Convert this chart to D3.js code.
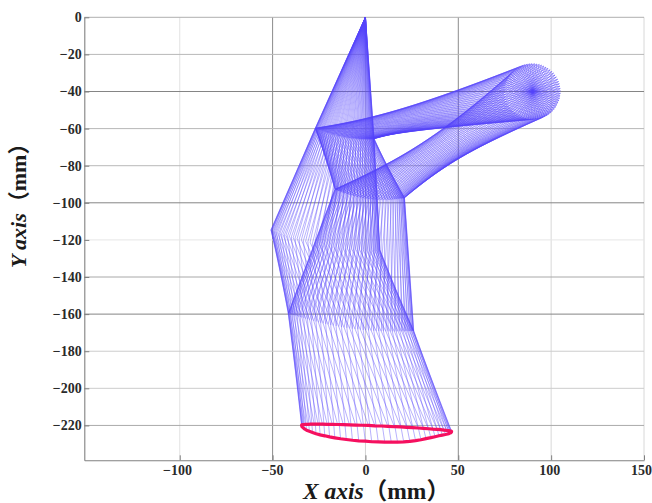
<!DOCTYPE html>
<html><head><meta charset="utf-8">
<style>html,body{margin:0;padding:0;background:#fff}svg{display:block}</style>
<script src="https://cdn.jsdelivr.net/npm/d3@7"></script></head><body>
<svg id="c" width="652" height="503"></svg>
<script>
// Axis ticks
const xTicks=[-100,-50,0,50,100,150];
const yTicks=[0,-20,-40,-60,-80,-100,-120,-140,-160,-180,-200,-220];
const xGridGray=["#e2e2e2","#8c8c8c","#d2d2d2","#8c8c8c","#d8d8d8","#d8d8d8"];
const yGridGray=["#b0b0b0","#b8b8b8","#858585","#b8b8b8","#b8b8b8","#858585","#e6e6e6","#a8a8a8","#858585","#cccccc","#cccccc","#aaaaaa"];
const xLabelNudge=[-2.7,-.5,0,-1,-2,-3];
// Fixed pivots (mm)
const pivotO=[0,0];
const pivotC=[90,-40];
// Joint positions per frame (mm). Extremes and paths measured on the reference, in-between frames estimated by hand.
const Px=[105.0,104.9,104.7,104.4,104.0,103.5,102.8,102.1,101.3,100.4,99.4,98.3,97.2,96.0,94.8,93.6,92.3,91.0,89.7,88.4,87.1,85.8,84.6,83.4,82.2,81.1,80.1,79.2,78.3,77.5,76.9,76.3,75.8,75.4,75.2,75.0,75.0,75.1,75.3,75.6,76.0,76.5,77.2,77.9,78.7,79.6,80.6,81.7,82.8,84.0,85.2,86.4,87.7,89.0,90.3,91.6,92.9,94.2,95.4,96.6,97.8,98.9,99.9,100.8,101.7,102.5,103.1,103.7,104.2,104.6,104.8,105.0];
const Py=[-39.7,-38.4,-37.1,-35.8,-34.6,-33.4,-32.2,-31.1,-30.1,-29.2,-28.3,-27.5,-26.9,-26.3,-25.8,-25.4,-25.2,-25.0,-25.0,-25.1,-25.3,-25.6,-26.0,-26.6,-27.2,-27.9,-28.7,-29.6,-30.6,-31.7,-32.8,-34.0,-35.2,-36.4,-37.7,-39.0,-40.3,-41.6,-42.9,-44.2,-45.4,-46.6,-47.8,-48.9,-49.9,-50.8,-51.7,-52.5,-53.1,-53.7,-54.2,-54.6,-54.8,-55.0,-55.0,-54.9,-54.7,-54.4,-54.0,-53.4,-52.8,-52.1,-51.3,-50.4,-49.4,-48.3,-47.2,-46.0,-44.8,-43.6,-42.3,-41.0];
const Ax=[4.1,4.4,4.6,4.6,4.5,4.3,4.0,3.5,2.9,2.2,1.4,.6,-.4,-1.5,-2.6,-3.8,-5.1,-6.4,-7.7,-9.1,-10.5,-11.8,-13.2,-14.6,-15.9,-17.2,-18.4,-19.6,-20.7,-21.8,-22.8,-23.6,-24.4,-25.1,-25.7,-26.2,-26.6,-26.8,-27.0,-27.0,-26.9,-26.7,-26.4,-26.0,-25.4,-24.8,-24.0,-23.2,-22.3,-21.3,-20.2,-19.0,-17.8,-16.6,-15.2,-13.9,-12.5,-11.2,-9.8,-8.4,-7.1,-5.7,-4.5,-3.2,-2.1,-1.0,.1,1.0,1.9,2.6,3.2,3.7];
const Ay=[-65.5,-65.5,-65.4,-65.4,-65.4,-65.5,-65.5,-65.5,-65.5,-65.6,-65.6,-65.6,-65.6,-65.6,-65.6,-65.5,-65.4,-65.3,-65.2,-65.0,-64.8,-64.5,-64.3,-64.0,-63.7,-63.3,-63.0,-62.6,-62.2,-61.9,-61.5,-61.2,-60.9,-60.6,-60.4,-60.2,-60.0,-59.9,-59.8,-59.8,-59.8,-59.9,-60.1,-60.3,-60.5,-60.7,-61.0,-61.4,-61.7,-62.1,-62.4,-62.8,-63.1,-63.5,-63.8,-64.1,-64.4,-64.7,-64.9,-65.1,-65.2,-65.4,-65.5,-65.5,-65.6,-65.6,-65.6,-65.6,-65.6,-65.5,-65.5,-65.5];
const Dx=[16.9,17.9,18.7,19.4,20.0,20.5,20.8,21.0,21.0,20.9,20.6,20.3,19.7,19.1,18.3,17.4,16.4,15.2,14.0,12.7,11.3,9.8,8.3,6.7,5.1,3.5,1.9,.3,-1.4,-2.9,-4.5,-6.0,-7.4,-8.8,-10.0,-11.2,-12.3,-13.3,-14.1,-14.8,-15.4,-15.9,-16.2,-16.4,-16.4,-16.3,-16.0,-15.7,-15.1,-14.5,-13.7,-12.8,-11.8,-10.6,-9.4,-8.1,-6.7,-5.2,-3.7,-2.1,-.5,1.1,2.7,4.3,6.0,7.5,9.1,10.6,12.0,13.4,14.6,15.8];
const Dy=[-98.0,-97.8,-97.7,-97.6,-97.5,-97.4,-97.3,-97.3,-97.3,-97.3,-97.4,-97.5,-97.5,-97.7,-97.8,-97.9,-98.0,-98.2,-98.3,-98.4,-98.4,-98.4,-98.4,-98.4,-98.3,-98.1,-98.0,-97.7,-97.4,-97.1,-96.8,-96.4,-96.0,-95.6,-95.2,-94.8,-94.4,-94.0,-93.7,-93.4,-93.1,-92.9,-92.8,-92.7,-92.7,-92.7,-92.9,-93.0,-93.3,-93.5,-93.8,-94.2,-94.6,-95.0,-95.4,-95.8,-96.2,-96.6,-97.0,-97.3,-97.6,-97.8,-98.1,-98.2,-98.3,-98.4,-98.4,-98.4,-98.4,-98.3,-98.2,-98.1];
const Ex=[6.2,7.0,7.5,7.7,7.8,7.6,7.2,6.6,5.8,4.8,3.5,2.1,.5,-1.3,-3.2,-5.2,-7.4,-9.7,-12.1,-14.6,-17.1,-19.6,-22.2,-24.8,-27.3,-29.8,-32.2,-34.5,-36.8,-38.9,-40.9,-42.8,-44.4,-46.0,-47.3,-48.4,-49.3,-50.1,-50.6,-50.8,-50.9,-50.7,-50.3,-49.7,-48.9,-47.9,-46.6,-45.2,-43.6,-41.9,-39.9,-37.9,-35.7,-33.4,-31.0,-28.5,-26.0,-23.5,-20.9,-18.4,-15.8,-13.3,-10.9,-8.6,-6.3,-4.2,-2.2,-.4,1.3,2.9,4.2,5.3];
const Ey=[-125.4,-125.4,-125.4,-125.4,-125.4,-125.4,-125.4,-125.4,-125.4,-125.4,-125.4,-125.4,-125.4,-125.3,-125.2,-125.1,-124.9,-124.7,-124.4,-124.1,-123.8,-123.3,-122.9,-122.4,-121.8,-121.3,-120.7,-120.0,-119.4,-118.8,-118.1,-117.5,-117.0,-116.4,-116.0,-115.6,-115.2,-114.9,-114.7,-114.6,-114.6,-114.7,-114.8,-115.1,-115.4,-115.8,-116.2,-116.7,-117.2,-117.8,-118.4,-119.1,-119.7,-120.3,-121.0,-121.6,-122.1,-122.6,-123.1,-123.6,-123.9,-124.3,-124.6,-124.8,-125.0,-125.1,-125.3,-125.3,-125.4,-125.4,-125.4,-125.4];
const Fx=[20.3,21.8,23.1,24.2,25.0,25.6,25.9,26.0,25.8,25.4,24.7,23.7,22.5,21.1,19.5,17.6,15.6,13.4,11.0,8.5,5.8,3.1,.2,-2.7,-5.6,-8.5,-11.5,-14.4,-17.3,-20.1,-22.8,-25.3,-27.8,-30.1,-32.2,-34.2,-35.9,-37.4,-38.7,-39.8,-40.6,-41.2,-41.5,-41.6,-41.4,-41.0,-40.3,-39.3,-38.1,-36.7,-35.1,-33.2,-31.2,-29.0,-26.6,-24.1,-21.4,-18.7,-15.8,-12.9,-10.0,-7.1,-4.1,-1.2,1.7,4.5,7.2,9.7,12.2,14.5,16.6,18.6];
const Fy=[-169.3,-169.2,-169.2,-169.1,-169.1,-169.0,-169.0,-169.0,-169.0,-169.0,-169.1,-169.1,-169.2,-169.3,-169.3,-169.3,-169.4,-169.4,-169.3,-169.2,-169.1,-168.9,-168.7,-168.4,-168.0,-167.7,-167.2,-166.7,-166.2,-165.6,-165.0,-164.4,-163.7,-163.1,-162.5,-161.9,-161.4,-160.9,-160.5,-160.1,-159.8,-159.6,-159.5,-159.5,-159.6,-159.7,-160.0,-160.3,-160.7,-161.1,-161.6,-162.2,-162.8,-163.4,-164.0,-164.7,-165.3,-165.9,-166.4,-167.0,-167.4,-167.9,-168.2,-168.6,-168.8,-169.0,-169.2,-169.3,-169.3,-169.4,-169.4,-169.3];
const Gx=[35.2,37.5,39.6,41.4,43.0,44.3,45.2,45.9,46.3,46.4,46.2,45.6,44.8,43.7,42.2,40.5,38.6,36.4,33.9,31.3,28.5,25.4,22.3,19.0,15.6,12.1,8.6,5.1,1.6,-1.9,-5.3,-8.6,-11.9,-15.0,-17.9,-20.6,-23.2,-25.5,-27.6,-29.4,-31.0,-32.3,-33.2,-33.9,-34.3,-34.4,-34.2,-33.6,-32.8,-31.7,-30.2,-28.5,-26.6,-24.4,-21.9,-19.3,-16.5,-13.4,-10.3,-7.0,-3.6,-.1,3.4,6.9,10.4,13.9,17.3,20.6,23.9,27.0,29.9,32.6];
const Gy=[-226.6,-226.1,-225.6,-225.2,-224.9,-224.6,-224.3,-224.0,-223.6,-223.2,-223.1,-223.0,-222.8,-222.7,-222.5,-222.3,-222.1,-222.0,-221.8,-221.6,-221.4,-221.2,-221.0,-220.8,-220.7,-220.5,-220.3,-220.2,-220.0,-219.9,-219.8,-219.7,-219.6,-219.5,-219.4,-219.4,-219.3,-219.3,-219.3,-219.3,-219.4,-219.4,-219.5,-219.6,-219.7,-219.9,-220.6,-221.2,-221.9,-222.6,-223.2,-223.8,-224.5,-225.1,-225.6,-226.2,-226.7,-227.2,-227.6,-228.0,-228.3,-228.5,-228.8,-228.9,-229.0,-229.0,-229.0,-228.9,-228.6,-228.2,-227.7,-227.1];

const x=d3.scaleLinear().domain([-151.4,150]).range([84.3,644]);
const y=d3.scaleLinear().domain([-238.8,0]).range([460.3,17.3]);
const svg=d3.select("#c");
const serif='"Liberation Serif","Noto Sans CJK SC",serif';

// Grid
svg.append("g").selectAll("line").data(xTicks).join("line")
  .attr("x1",d=>x(d)).attr("x2",d=>x(d)).attr("y1",y(0)).attr("y2",460.3)
  .attr("stroke",(d,i)=>xGridGray[i]).attr("stroke-width",1);
svg.append("g").selectAll("line").data(yTicks).join("line")
  .attr("y1",d=>y(d)).attr("y2",d=>y(d)).attr("x1",84.3).attr("x2",644)
  .attr("stroke",(d,i)=>yGridGray[i]).attr("stroke-width",1);

// Linkage frames
const jointsAt=i=>({O:pivotO,C:pivotC,P:[Px[i],Py[i]],A:[Ax[i],Ay[i]],D:[Dx[i],Dy[i]],E:[Ex[i],Ey[i]],F:[Fx[i],Fy[i]],G:[Gx[i],Gy[i]]});
const links=[["C","P"],["P","A"],["P","D"],["O","A"],["A","D"],["A","E"],["D","F"],["E","F"],["F","G"]];
const rods=[];
Px.forEach((_,i)=>{const j=jointsAt(i);links.forEach(l=>rods.push([j[l[0]],j[l[1]]]));});
svg.append("g").attr("stroke","#5444fa").attr("stroke-width",.6).attr("stroke-opacity",.7)
  .selectAll("line").data(rods).join("line")
  .attr("x1",d=>x(d[0][0])).attr("y1",d=>y(d[0][1])).attr("x2",d=>x(d[1][0])).attr("y2",d=>y(d[1][1]));

// Foot path
const foot=d3.line().x(d=>x(d[0])).y(d=>y(d[1])).curve(d3.curveLinearClosed);
svg.append("path").datum(Gx.map((v,i)=>[v,Gy[i]])).attr("d",foot)
  .attr("fill","none").attr("stroke","#f5105f").attr("stroke-width",3.2).attr("stroke-linejoin","round");

// Axes
const style=g=>{g.selectAll(".domain").attr("stroke","#808080").attr("stroke-width",1.1);
  g.selectAll(".tick line").attr("stroke","#808080");
  g.selectAll("text").attr("font-family",serif).attr("font-weight","bold").attr("font-size","14px").attr("fill","#2a2a2a");};
svg.append("g").attr("transform","translate(0,460.3)")
  .call(d3.axisBottom(x).tickValues(xTicks).tickSizeInner(-5).tickSizeOuter(0).tickPadding(5).tickFormat(d3.format("d")))
  .call(style)
  .selectAll("text").attr("dx",(d,i)=>xLabelNudge[i]);
svg.append("g").attr("transform","translate(84.3,0)")
  .call(d3.axisLeft(y).tickValues(yTicks).tickSizeInner(-5).tickSizeOuter(0).tickPadding(2.5).tickFormat(d3.format("d")))
  .call(style);

// Titles
const title=(sel,a,b,size)=>{sel.attr("font-family",serif).attr("font-weight","bold").attr("font-size",size+"px").attr("fill","#1a1a1a");
  sel.append("tspan").attr("font-style","italic").text(a);sel.append("tspan").text(b);};
svg.append("text").attr("x",303).attr("y",499).call(title,"X axis","（mm）",23.5);
svg.append("text").attr("transform","translate(26,268) rotate(-90)").call(title,"Y axis","（mm）",22);
</script></body></html>
